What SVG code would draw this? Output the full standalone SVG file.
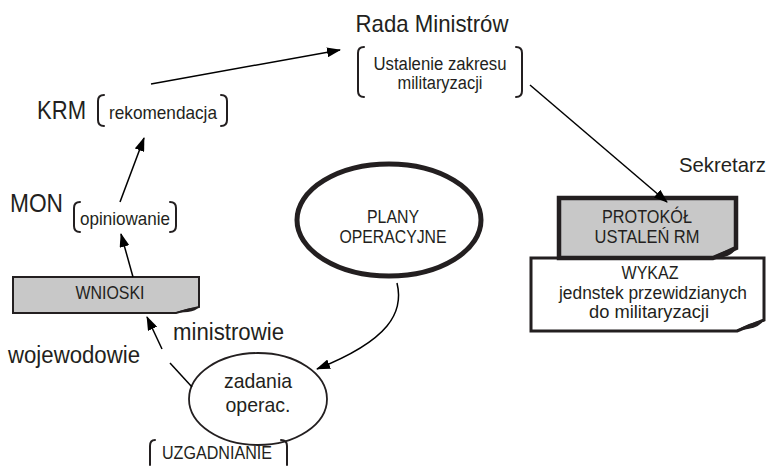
<svg xmlns="http://www.w3.org/2000/svg" width="772" height="467" viewBox="0 0 772 467">
<defs>
<style>
text{font-family:"Liberation Sans",Arial,Helvetica,sans-serif;fill:#231f20;}
.c{text-anchor:middle;}
.br{fill:none;stroke:#231f20;stroke-width:2;stroke-linecap:round;}
.ln{fill:none;stroke:#000;stroke-width:1.5;}
.gray{fill:#c8c8c8;}
</style>
<marker id="ah" markerUnits="userSpaceOnUse" markerWidth="14" markerHeight="10" refX="13" refY="5" orient="auto">
<path d="M0,0 L14,5 L0,10 Z" fill="#000"/>
</marker>
</defs>
<rect width="772" height="467" fill="#fff"/>

<g id="rada">
<text x="432" y="32" class="c" font-size="24" textLength="153" lengthAdjust="spacingAndGlyphs">Rada Ministrów</text>
<path class="br" d="M364,47 Q358,47 358,53 V91 Q358,97 364,97"/>
<path class="br" d="M516,47 Q522,47 522,53 V91 Q522,97 516,97"/>
<text x="440" y="70" class="c" font-size="18" textLength="133" lengthAdjust="spacingAndGlyphs">Ustalenie zakresu</text>
<text x="440" y="89" class="c" font-size="18" textLength="85" lengthAdjust="spacingAndGlyphs">militaryzacji</text>
</g>

<g id="krm">
<text x="37" y="119" font-size="26" textLength="49" lengthAdjust="spacingAndGlyphs">KRM</text>
<path class="br" d="M104,95 Q98,95 98,101 V120 Q98,126 104,126"/>
<path class="br" d="M221,95 Q227,95 227,101 V120 Q227,126 221,126"/>
<text x="163" y="119" class="c" font-size="18.5" textLength="108" lengthAdjust="spacingAndGlyphs">rekomendacja</text>
</g>

<g id="mon">
<text x="10" y="212" font-size="26" textLength="53" lengthAdjust="spacingAndGlyphs">MON</text>
<path class="br" d="M80,202 Q74,202 74,208 V226 Q74,232 80,232"/>
<path class="br" d="M170,202 Q176,202 176,208 V226 Q176,232 170,232"/>
<text x="125" y="225" class="c" font-size="18.5" textLength="90" lengthAdjust="spacingAndGlyphs">opiniowanie</text>
</g>

<g id="wnioski">
<path class="gray" stroke="#231f20" stroke-width="2" d="M13,277 H199 V307 Q190,309 176,313 H13 Z"/>
<path d="M174,313 Q186,308 199,307 Q196,311 188,312 Z" fill="#231f20"/>
<text x="110" y="299" class="c" font-size="17.5" textLength="69" lengthAdjust="spacingAndGlyphs">WNIOSKI</text>
</g>

<g id="ministrowie">
<text x="173" y="340" font-size="23" textLength="111" lengthAdjust="spacingAndGlyphs">ministrowie</text>
</g>

<g id="wojewodowie">
<text x="8" y="363" font-size="23.5" textLength="132" lengthAdjust="spacingAndGlyphs">wojewodowie</text>
</g>

<g id="zadania">
<ellipse cx="258" cy="399" rx="69" ry="46" fill="#fff" stroke="#231f20" stroke-width="1.8"/>
<text x="258" y="388" class="c" font-size="21" textLength="68" lengthAdjust="spacingAndGlyphs">zadania</text>
<text x="258" y="412" class="c" font-size="21" textLength="65" lengthAdjust="spacingAndGlyphs">operac.</text>
</g>

<g id="uzgadnianie">
<path class="br" d="M155,440 Q150,440 150,446 V465"/>
<path class="br" d="M281,440 Q287,440 287,446 V465"/>
<text x="217" y="459" class="c" font-size="17.5" textLength="110" lengthAdjust="spacingAndGlyphs">UZGADNIANIE</text>
</g>

<g id="plany">
<ellipse cx="389" cy="220" rx="92" ry="56" fill="#fff" stroke="#231f20" stroke-width="5"/>
<text x="393" y="223" class="c" font-size="17.5" textLength="52" lengthAdjust="spacingAndGlyphs">PLANY</text>
<text x="393" y="243" class="c" font-size="17.5" textLength="107" lengthAdjust="spacingAndGlyphs">OPERACYJNE</text>
</g>

<g id="sekretarz">
<text x="679" y="172" font-size="21" textLength="87" lengthAdjust="spacingAndGlyphs">Sekretarz</text>
</g>

<g id="wykaz">
<path fill="#fff" stroke="#231f20" stroke-width="3" d="M531,258 H764 V320 Q752,325 737,331 H531 Z"/>
<path d="M735,331 Q750,322 764,320 Q760,327 748,329 Z" fill="#231f20"/>
<text x="650" y="279" class="c" font-size="18" textLength="57" lengthAdjust="spacingAndGlyphs">WYKAZ</text>
<text x="653" y="299" class="c" font-size="18" textLength="188" lengthAdjust="spacingAndGlyphs">jednstek przewidzianych</text>
<text x="649" y="318" class="c" font-size="18" textLength="120" lengthAdjust="spacingAndGlyphs">do militaryzacji</text>
</g>

<g id="protokol">
<path class="gray" stroke="#231f20" stroke-width="4.5" d="M559,198 H736 V248 Q726,253 713,258 H559 Z"/>
<path d="M711,258 Q724,250 736,248 Q733,255 724,257 Z" fill="#231f20"/>
<text x="647" y="223" class="c" font-size="18" textLength="90" lengthAdjust="spacingAndGlyphs">PROTOKÓŁ</text>
<text x="647" y="243" class="c" font-size="18" textLength="105" lengthAdjust="spacingAndGlyphs">USTALEŃ RM</text>
</g>

<g id="connectors">
<path class="ln" d="M151,84 L340,50" marker-end="url(#ah)"/>
<path class="ln" d="M530,85 L667,202" marker-end="url(#ah)"/>
<path class="ln" d="M397,283 C404,312 390,340 317,369" marker-end="url(#ah)"/>
<path class="ln" d="M192,387 L170,363"/>
<path class="ln" d="M162,349 L147,317" marker-end="url(#ah)"/>
<path class="ln" d="M133,277 L121,234" marker-end="url(#ah)"/>
<path class="ln" d="M120,202 L144,138" marker-end="url(#ah)"/>
</g>
</svg>
